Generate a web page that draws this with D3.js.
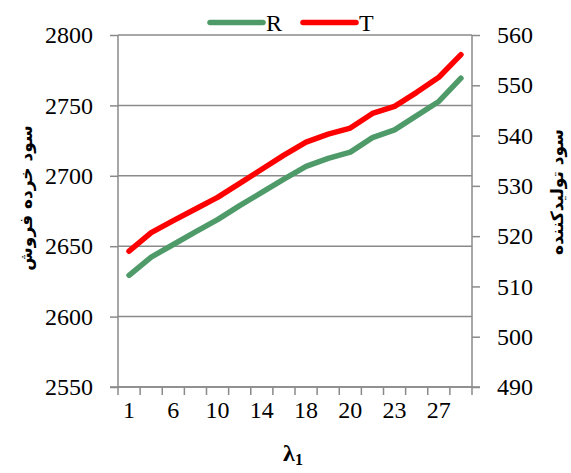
<!DOCTYPE html>
<html>
<head>
<meta charset="utf-8">
<script src="https://cdn.jsdelivr.net/npm/d3@7/dist/d3.min.js"></script>
<style>
  html, body { margin: 0; padding: 0; background: #fff; }
  svg { display: block; }
  .tick-label { font-family: "Liberation Serif", "Times New Roman", serif; font-size: 24px; fill: #000; }
  .axis-title { font-family: "DejaVu Sans", sans-serif; font-weight: bold; font-size: 17px; fill: #000; }
</style>
</head>
<body>
<svg id="chart" width="571" height="473"></svg>
<script>
// λ1 values along the x axis (every other one is labelled)
const lambdas = [1, 3, 6, 8, 10, 12, 14, 16, 18, 19, 20, 22, 23, 25, 27, 29];
// Retailer profit (left axis)
const retailerR = [2629.3, 2642.3, 2651.2, 2660.1, 2668.9, 2678.8, 2688.2, 2697.7,
                   2706.7, 2712.4, 2716.8, 2727.1, 2732.6, 2742.7, 2752.8, 2769.3];
// Manufacturer profit (right axis)
const makerT = [517.0, 520.7, 523.1, 525.4, 527.7, 530.5, 533.3, 536.1,
                538.7, 540.3, 541.5, 544.4, 545.8, 548.6, 551.6, 556.1];
const leftTicks = [2550, 2600, 2650, 2700, 2750, 2800];
const rightTicks = [490, 500, 510, 520, 530, 540, 550, 560];
const seriesNames = ["R", "T"];
const seriesColors = ["#4e9a69", "#ff0000"];

const svg = d3.select("#chart");
const plot = { left: 118, right: 472, top: 35, bottom: 387 };
const gridColor = "#8a8a8a";

const x = d3.scaleBand().domain(lambdas).range([plot.left, plot.right]).padding(0);
const yL = d3.scaleLinear().domain([2550, 2800]).range([plot.bottom, plot.top]);
const yR = d3.scaleLinear().domain([490, 560]).range([plot.bottom, plot.top]);

// horizontal gridlines
svg.append("g").selectAll("line").data(leftTicks).join("line")
  .attr("x1", plot.left).attr("x2", plot.right)
  .attr("y1", d => yL(d)).attr("y2", d => yL(d))
  .attr("stroke", gridColor).attr("stroke-width", 1.5);

// left axis
const gL = svg.append("g").attr("transform", `translate(${plot.left},0)`)
  .call(d3.axisLeft(yL).tickValues(leftTicks).tickFormat(d3.format("d")).tickSize(8).tickPadding(17));
// right axis
const gR = svg.append("g").attr("transform", `translate(${plot.right},0)`)
  .call(d3.axisRight(yR).tickValues(rightTicks).tickFormat(d3.format("d")).tickSize(8).tickPadding(17));
// bottom axis: ticks at category boundaries, labels on every other category
const boundaries = lambdas.map(d => x(d)).concat([plot.right]);
const gB = svg.append("g").attr("transform", `translate(0,${plot.bottom})`)
  .call(d3.axisBottom(x).tickValues(lambdas.filter((d, i) => i % 2 === 0)).tickSize(0).tickPadding(14));
gB.selectAll(".tick line").remove();
gB.append("g").selectAll("line").data(boundaries).join("line")
  .attr("x1", d => d).attr("x2", d => d).attr("y1", 0).attr("y2", 8)
  .attr("stroke", gridColor).attr("stroke-width", 1.5);
gB.select(".domain").attr("d", `M${plot.left - 8},0H${plot.right + 8}`);

[gL, gR, gB].forEach(g => {
  g.attr("font-family", null).attr("font-size", null);
  g.selectAll(".domain").attr("stroke", gridColor).attr("stroke-width", 1.5);
  g.selectAll(".tick line").attr("stroke", gridColor).attr("stroke-width", 1.5);
  g.selectAll("text").attr("class", "tick-label");
});
gL.select(".domain").attr("d", `M0,${plot.bottom}V${plot.top}`);
gR.select(".domain").attr("d", `M0,${plot.bottom}V${plot.top}`);

// series lines
const cx = d => x(d) + x.bandwidth() / 2;
const lineR = d3.line().x((d, i) => cx(lambdas[i])).y(d => yL(d));
const lineT = d3.line().x((d, i) => cx(lambdas[i])).y(d => yR(d));
svg.append("path").attr("d", lineR(retailerR)).attr("fill", "none")
  .attr("stroke", seriesColors[0]).attr("stroke-width", 5.5)
  .attr("stroke-linecap", "round").attr("stroke-linejoin", "round");
svg.append("path").attr("d", lineT(makerT)).attr("fill", "none")
  .attr("stroke", seriesColors[1]).attr("stroke-width", 5.5)
  .attr("stroke-linecap", "round").attr("stroke-linejoin", "round");

// legend
const legend = svg.append("g");
const legendX = [210, 303];
seriesNames.forEach((name, i) => {
  legend.append("line").attr("x1", legendX[i]).attr("x2", legendX[i] + 53)
    .attr("y1", 22.5).attr("y2", 22.5)
    .attr("stroke", seriesColors[i]).attr("stroke-width", 5.5).attr("stroke-linecap", "round");
  legend.append("text").attr("class", "tick-label")
    .attr("x", legendX[i] + 56).attr("y", 31).text(name);
});

// axis titles
svg.append("text").attr("class", "axis-title")
  .attr("transform", "translate(27,198) rotate(-90)")
  .attr("text-anchor", "middle").attr("dominant-baseline", "middle")
  .text("سود خرده فروش");
svg.append("text").attr("class", "axis-title")
  .attr("transform", "translate(558,192) rotate(-90)")
  .attr("text-anchor", "middle").attr("dominant-baseline", "middle")
  .text("سود تولیدکننده");

// x axis title λ1
const xt = svg.append("text").attr("class", "tick-label")
  .attr("x", 293).attr("y", 461).attr("text-anchor", "middle")
  .attr("font-weight", "bold");
xt.append("tspan").text("λ");
xt.append("tspan").attr("font-size", "16px").attr("dy", 4).text("1");
</script>
</body>
</html>
